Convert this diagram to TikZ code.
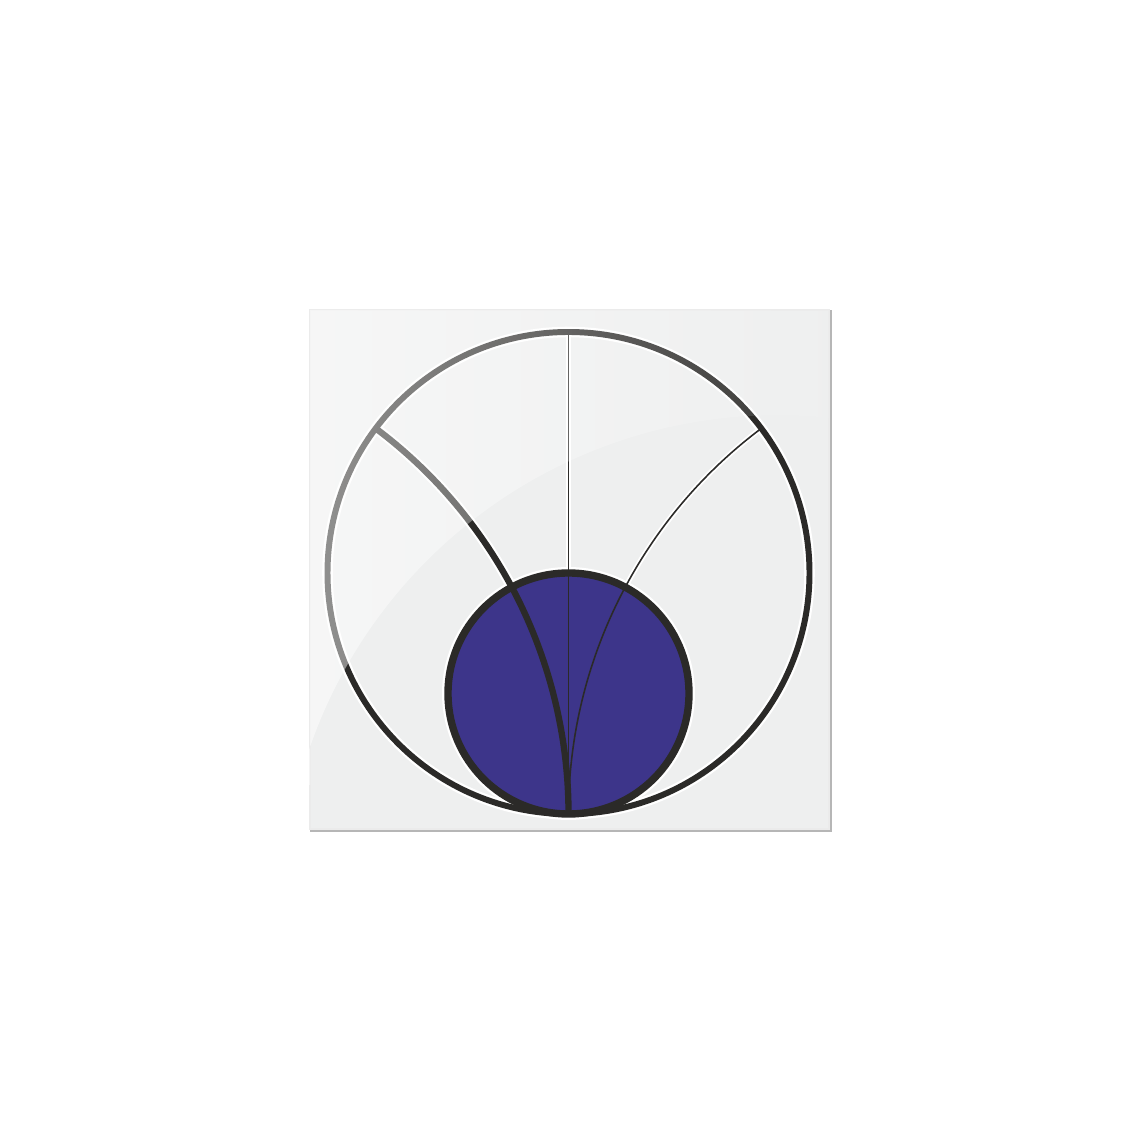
\documentclass[tikz,border=0pt]{standalone}
\usetikzlibrary{fadings}
\definecolor{inkc}{HTML}{2B2A28}
\definecolor{bluec}{HTML}{3D358A}
\definecolor{panelc}{HTML}{EEEFEF}
\definecolor{shadowc}{HTML}{B6B6B6}
\tikzset{
  ink/.style={draw=inkc, line width=#1},
  halo/.style={draw=white, line width=#1},
}
\tikzfading[name=gloss, left color=transparent!50, right color=transparent!95]
\def\rad{2.41}
\begin{document}
\begin{tikzpicture}
      \useasboundingbox (0,0) rectangle (11.4,11.4);
      % panel
      \fill[shadowc] (3.10,3.08) rectangle (8.32,8.30);
      \fill[panelc, draw=black!8, line width=0.3pt] (3.10,3.11) rectangle (8.29,8.30);
      \begin{scope}[shift={(5.685,5.67)}]
        \coordinate (o) at (0,0);
        \coordinate (s) at (0,-\rad/2);
        \coordinate (top) at (90:\rad);
        \coordinate (bot) at (270:\rad);
        \coordinate (xl) at (143.13:\rad);
        \coordinate (xr) at (36.87:\rad);
        % white edges
        \draw[halo=3.0pt] (o) circle[radius=\rad];
        \draw[halo=3.4pt] (s) circle[radius=\rad/2];
        \draw[halo=1.5pt] (top) -- (bot);
        \draw[halo=3.0pt] (xl) arc[start angle=53.13, end angle=0, radius=2*\rad];
        \draw[halo=1.5pt] (xr) arc[start angle=126.87, end angle=180, radius=2*\rad];
        \fill[bluec] (s) circle[radius=\rad/2];
        % lines
        \draw[ink=1.7pt] (o) circle[radius=\rad];
        \draw[ink=0.45pt] (top) -- (bot);
        \draw[ink=1.8pt] (xl) arc[start angle=53.13, end angle=0, radius=2*\rad];
        \draw[ink=0.45pt] (xr) arc[start angle=126.87, end angle=180, radius=2*\rad];
        \draw[ink=2.1pt] (s) circle[radius=\rad/2];
      \end{scope}
      % gloss
      \fill[white, path fading=gloss] (3.10,3.55) -- (3.10,8.30) -- (8.29,8.30) -- (8.29,7.22)
        arc[start angle=84.0, end angle=165.3, radius=4.95] -- cycle;
    \end{tikzpicture}
\end{document}
